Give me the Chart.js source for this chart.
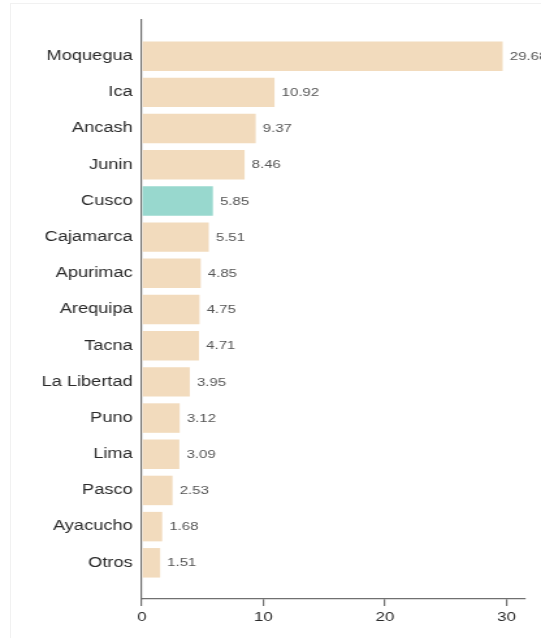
<!DOCTYPE html>
<html>
<head>
<meta charset="utf-8">
<script src="https://cdn.jsdelivr.net/npm/chart.js@4/dist/chart.umd.min.js"></script>
<style>
  html, body { margin: 0; padding: 0; background: #fff; overflow: hidden; }
  #wrap { position: relative; width: 541px; height: 638px; }
  #frame { position: absolute; left: 10px; top: 3px; right: 0; bottom: 0;
           border-left: 1px solid #f1f1f1; border-top: 1px solid #f1f1f1; }
  #chart { position: absolute; left: 0; top: 0; }
</style>
</head>
<body>
<div id="wrap">
  <div id="frame"></div>
  <canvas id="chart" width="416" height="638" style="width:541px;height:638px"></canvas>
</div>
<script>
// Regions and their shares, largest first
const regions = ["Moquegua", "Ica", "Ancash", "Junin", "Cusco", "Cajamarca", "Apurimac",
                 "Arequipa", "Tacna", "La Libertad", "Puno", "Lima", "Pasco", "Ayacucho", "Otros"];
const values = [29.68, 10.92, 9.37, 8.46, 5.85, 5.51, 4.85, 4.75, 4.71, 3.95, 3.12, 3.09, 2.53, 1.68, 1.51];
const highlighted = "Cusco";
const xTicks = [0, 10, 20, 30];

const FONT = "'Liberation Sans', Arial, Helvetica, sans-serif";
const AXIS = "#707070";

// Value label at the end of each bar
const valueLabels = {
  id: "valueLabels",
  afterDatasetsDraw(chart) {
    const ctx = chart.ctx;
    const meta = chart.getDatasetMeta(0);
    ctx.save();
    ctx.font = "11.5px " + FONT;
    ctx.fillStyle = "#555";
    ctx.textAlign = "left";
    ctx.textBaseline = "middle";
    meta.data.forEach((bar, i) => {
      ctx.fillText(values[i].toFixed(2), bar.x + 5.5, bar.y + 0.5);
    });
    ctx.restore();
  }
};

new Chart(document.getElementById("chart"), {
  type: "bar",
  data: {
    datasets: [{
      data: values.map((v, i) => ({ x: v, y: i })),
      backgroundColor: ctx => regions[ctx.dataIndex] === highlighted ? "#98d8ce" : "#f2dbbd",
      borderWidth: 0,
      barPercentage: 0.815,
      categoryPercentage: 1
    }]
  },
  options: {
    indexAxis: "y",
    responsive: false,
    animation: false,
    devicePixelRatio: 1,
    layout: { padding: { top: 20, right: 12, left: 0, bottom: 0 } },
    plugins: { legend: { display: false }, tooltip: { enabled: false } },
    scales: {
      y: {
        type: "linear",
        offset: false,
        min: -1,
        max: 15,
        reverse: true,
        afterBuildTicks: s => { s.ticks = regions.map((_, i) => ({ value: i })); },
        afterFit: s => { s.width = 109; },
        grid: { display: false, drawTicks: false },
        border: { display: true, color: AXIS, width: 1.2 },
        ticks: {
          padding: 7,
          color: "#2a2a2a",
          font: { family: FONT, size: 14 },
          callback: v => regions[v]
        }
      },
      x: {
        type: "linear",
        min: 0,
        max: 31.55,
        afterBuildTicks: s => { s.ticks = xTicks.map(v => ({ value: v })); },
        afterFit: s => { s.height = 39; },
        grid: { display: true, drawOnChartArea: false, drawTicks: true, tickLength: 7,
                color: AXIS, lineWidth: 1.2 },
        border: { display: true, color: AXIS, width: 1.2 },
        ticks: {
          padding: 4,
          color: "#2a2a2a",
          font: { family: FONT, size: 13 },
          maxRotation: 0
        }
      }
    }
  },
  plugins: [valueLabels]
});
</script>
</body>
</html>
